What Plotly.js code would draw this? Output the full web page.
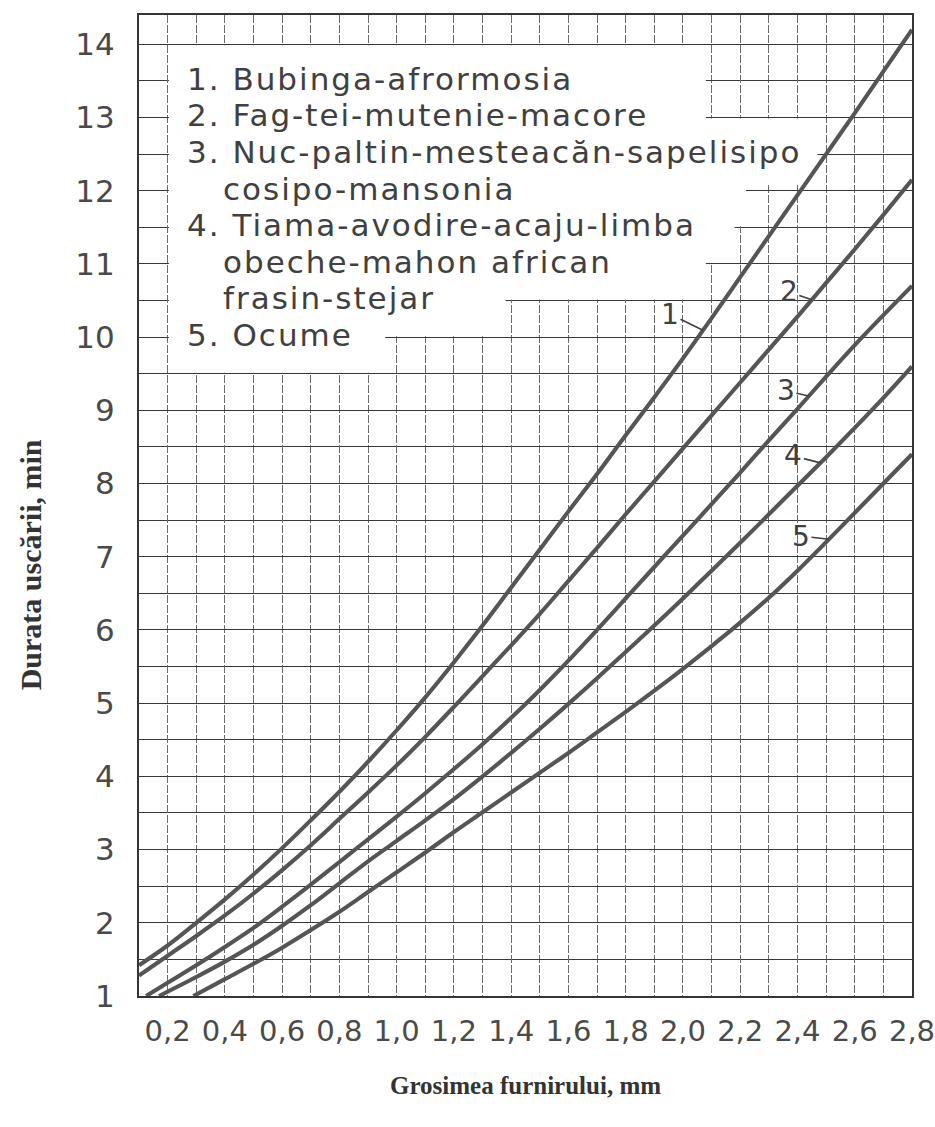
<!DOCTYPE html>
<html>
<head>
<meta charset="utf-8">
<script src="https://cdn.plot.ly/plotly-3.0.1.min.js"></script>
<style>html,body{margin:0;padding:0;background:#fff;}</style>
</head>
<body>
<div id="chart" style="width:935px;height:1127px;"></div>
<script>
// ---- data (thickness in mm, drying time in min) ----
const xFull = [0.1,0.2,0.3,0.4,0.5,0.6,0.7,0.8,0.9,1.0,1.1,1.2,1.3,1.4,1.5,1.6,1.7,1.8,1.9,2.0,2.1,2.2,2.3,2.4,2.5,2.6,2.7,2.8];
const dur1  = [1.42,1.69,2.0,2.32,2.66,3.02,3.4,3.79,4.2,4.63,5.08,5.56,6.06,6.58,7.1,7.62,8.13,8.66,9.18,9.71,10.26,10.82,11.38,11.94,12.5,13.06,13.63,14.2];
const dur2  = [1.28,1.55,1.82,2.1,2.4,2.72,3.06,3.42,3.78,4.15,4.54,4.95,5.37,5.79,6.22,6.67,7.12,7.58,8.03,8.48,8.93,9.38,9.83,10.28,10.74,11.2,11.67,12.15];
const x3    = [0.125,0.2,0.3,0.4,0.5,0.6,0.7,0.8,0.9,1.0,1.1,1.2,1.3,1.4,1.5,1.6,1.7,1.8,1.9,2.0,2.1,2.2,2.3,2.4,2.5,2.6,2.7,2.8];
const dur3  = [1.0,1.18,1.42,1.67,1.93,2.22,2.52,2.83,3.14,3.45,3.77,4.1,4.44,4.8,5.18,5.58,6.0,6.43,6.86,7.29,7.72,8.15,8.59,9.02,9.46,9.89,10.3,10.7];
const x4    = [0.17,0.3,0.4,0.5,0.6,0.7,0.8,0.9,1.0,1.1,1.2,1.3,1.4,1.5,1.6,1.7,1.8,1.9,2.0,2.1,2.2,2.3,2.4,2.5,2.6,2.7,2.8];
const dur4  = [1.0,1.26,1.47,1.7,1.96,2.24,2.54,2.84,3.12,3.4,3.69,4.0,4.32,4.65,4.99,5.34,5.7,6.06,6.43,6.81,7.19,7.58,7.97,8.36,8.76,9.17,9.6];
const x5    = [0.29,0.4,0.5,0.6,0.7,0.8,0.9,1.0,1.1,1.2,1.3,1.4,1.5,1.6,1.7,1.8,1.9,2.0,2.1,2.2,2.3,2.4,2.5,2.6,2.7,2.8];
const dur5  = [1.0,1.23,1.44,1.66,1.9,2.15,2.42,2.69,2.96,3.24,3.51,3.78,4.05,4.32,4.6,4.88,5.17,5.47,5.78,6.1,6.44,6.81,7.2,7.6,8.0,8.4];

const curveNames  = ["1","2","3","4","5"];
const legendLines = ["1. Bubinga-afrormosia","2. Fag-tei-mutenie-macore","3. Nuc-paltin-mesteacăn-sapelisipo","cosipo-mansonia","4. Tiama-avodire-acaju-limba","obeche-mahon african","frasin-stejar","5. Ocume"];
const xTickVals   = [0.2,0.4,0.6,0.8,1.0,1.2,1.4,1.6,1.8,2.0,2.2,2.4,2.6,2.8];
const xTickText   = ["0,2","0,4","0,6","0,8","1,0","1,2","1,4","1,6","1,8","2,0","2,2","2,4","2,6","2,8"];
const yTickVals   = [1,2,3,4,5,6,7,8,9,10,11,12,13,14];
const yTickText   = ["1","2","3","4","5","6","7","8","9","10","11","12","13","14"];
const xTitle = "Grosimea furnirului, mm";
const yTitle = "Durata uscării, min";

// ---- layout helpers (positions / styles) ----
const legendRowY   = [13.5,13,12.5,12,11.5,11,10.5,10];
const legendIndent = [0,0,0,1,0,1,1,0];
const labelAtX     = [2.07,2.45,2.44,2.48,2.51];
const labelOffset  = [[-33,-16],[-23,-8],[-23,-5],[-27,-7],[-28,-3]];
// white box behind the key: [yLow, yHigh, xRight]
const whiteBands = [[13.5,14,2.1],[13,13.5,2.1],[12.5,13,2.5],[12.1,12.5,2.45],[12,12.1,2.3],[11.5,12,2.3],[11,11.5,2.2],[10.5,11,2.1],[10,10.5,1.4],[9.5,10,1.0]];
const lineHides  = [[13.5,2.08],[13,2.08],[12.5,2.47],[12,2.22],[11.5,2.18],[11,2.08],[10.5,1.38],[10,0.96]];

const textFont = 'DejaVu Sans, Open Sans, sans-serif';
const serifFont = 'Liberation Serif, Times New Roman, serif';
const ink = '#404040';
const curveColor = '#555555';

const series = [[xFull,dur1],[xFull,dur2],[x3,dur3],[x4,dur4],[x5,dur5]];
const traces = series.map((s,i)=>({
  type:'scatter', mode:'lines', x:s[0], y:s[1], name:curveNames[i],
  line:{color:curveColor, width:4.1, shape:'spline', smoothing:1},
  hoverinfo:'skip', showlegend:false
}));

function interp(xs, ys, x){
  for(let i=0;i<xs.length-1;i++){
    if(x>=xs[i] && x<=xs[i+1]){
      const t=(x-xs[i])/(xs[i+1]-xs[i]);
      return ys[i]+t*(ys[i+1]-ys[i]);
    }
  }
  return ys[ys.length-1];
}

const isLine = v => Math.abs(v*2-Math.round(v*2))<1e-9;
const shapes = [];
const D = 0.013, H = 0.022, W = 0.0045;
whiteBands.forEach(b=>{
  shapes.push({type:'rect', xref:'x', yref:'y', layer:'between',
    x0:0.2+W, x1:b[2]-W, y0:isLine(b[0])?b[0]+D:b[0], y1:isLine(b[1])?b[1]-D:b[1],
    fillcolor:'#ffffff', line:{width:0}});
});
lineHides.forEach(h=>{
  shapes.push({type:'rect', xref:'x', yref:'y', layer:'between',
    x0:0.2+W, x1:h[1], y0:h[0]-H, y1:h[0]+H,
    fillcolor:'#ffffff', line:{width:0}});
});

const annotations = [];
legendLines.forEach((t,i)=>{
  annotations.push({xref:'x', yref:'y', x: legendIndent[i]?0.385:0.26, y: legendRowY[i]+0.03,
    xanchor:'left', yanchor:'middle', showarrow:false,
    text:'<span style="letter-spacing:2px">'+t+'</span>',
    font:{family:textFont, size:31, color:ink}});
});
curveNames.forEach((n,i)=>{
  const s = series[i];
  annotations.push({xref:'x', yref:'y', x:labelAtX[i], y:interp(s[0],s[1],labelAtX[i]),
    text:n, showarrow:true, arrowhead:0, arrowwidth:1.6, arrowcolor:ink, standoff:0,
    ax:labelOffset[i][0], ay:labelOffset[i][1],
    font:{family:textFont, size:28, color:ink}});
});
annotations.push({xref:'paper', yref:'paper', x:-0.141, y:0.439, xanchor:'center', yanchor:'middle',
  textangle:-90, showarrow:false, text:'<b>'+yTitle+'</b>',
  font:{family:serifFont, size:30, color:'#333'}});

const layout = {
  width:935, height:1127,
  margin:{l:139, r:23, t:15, b:131},
  paper_bgcolor:'#fff', plot_bgcolor:'#fff',
  showlegend:false,
  xaxis:{range:[0.1,2.8], tickmode:'array', tickvals:xTickVals, ticktext:xTickText,
    showgrid:true, gridcolor:'#6a6a6a', gridwidth:1, griddash:'8px,2px',
    minor:{dtick:0.1, tick0:0, showgrid:true, gridcolor:'#6a6a6a', gridwidth:1, griddash:'8px,2px', ticks:''},
    showline:true, mirror:true, linecolor:'#353535', linewidth:2, zeroline:false,
    ticks:'', ticklabelstandoff:8, ticklabeloverflow:'allow',
    tickfont:{family:textFont, size:29, color:'#4a4a4a'},
    title:{text:'<b>'+xTitle+'</b>', standoff:30,
      font:{family:serifFont, size:25, color:'#333'}},
    automargin:false, fixedrange:true},
  yaxis:{range:[1,14.4], tickmode:'array', tickvals:yTickVals, ticktext:yTickText,
    showgrid:true, gridcolor:'#383838', gridwidth:1,
    minor:{dtick:0.5, tick0:0, showgrid:true, gridcolor:'#383838', gridwidth:1, ticks:''},
    showline:true, mirror:true, linecolor:'#353535', linewidth:2, zeroline:false,
    ticks:'', ticklabelstandoff:16,
    tickfont:{family:textFont, size:31, color:'#4a4a4a'},
    automargin:false, fixedrange:true},
  shapes:shapes,
  annotations:annotations
};

Plotly.newPlot('chart', traces, layout, {staticPlot:true, displayModeBar:false});
</script>
</body>
</html>
